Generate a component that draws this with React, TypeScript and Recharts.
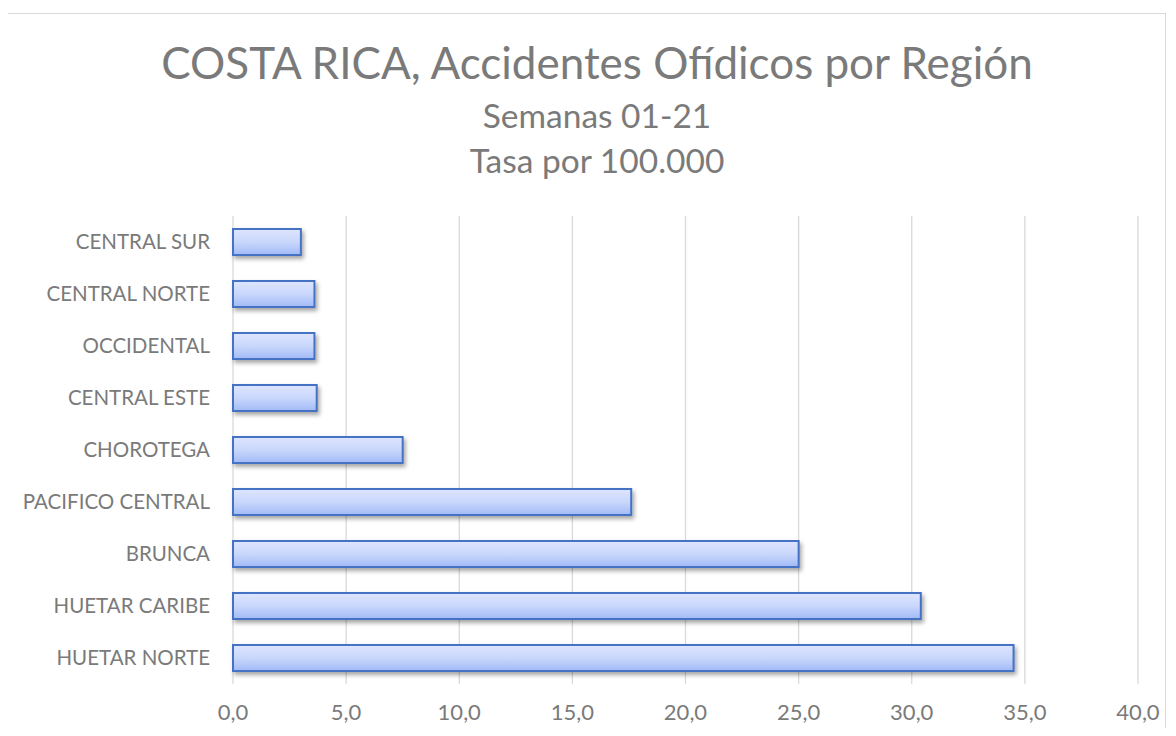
import { BarChart, Bar, XAxis, YAxis, CartesianGrid } from 'recharts'

// regiones, de arriba hacia abajo
const regiones = [
  'CENTRAL SUR',
  'CENTRAL NORTE',
  'OCCIDENTAL',
  'CENTRAL ESTE',
  'CHOROTEGA',
  'PACIFICO CENTRAL',
  'BRUNCA',
  'HUETAR CARIBE',
  'HUETAR NORTE'
]

// tasa por 100.000 habitantes
const tasas = [3.0, 3.6, 3.6, 3.7, 7.5, 17.6, 25.0, 30.4, 34.5]

const ticksX = [0, 5, 10, 15, 20, 25, 30, 35, 40]

const titulo = 'COSTA RICA, Accidentes Ofídicos por Región'
const subtitulos = ['Semanas 01-21', 'Tasa por 100.000']

const data = regiones.map((region, i) => ({ region, tasa: tasas[i] }))

const FONT = 'Lato, "Noto Sans", sans-serif'
const GRIS = '#7a7a7a'

const W = 1157
const H = 730

// barra con degradado, borde y sombra
const BarraSombra = (props: any) => {
  const { x, y, width, height } = props
  if (!width || width <= 0) return null
  return (
    <rect
      x={x}
      y={y}
      width={width}
      height={height}
      fill="url(#rellenoBarra)"
      stroke="#4472c4"
      strokeWidth={2}
      filter="url(#sombraBarra)"
    />
  )
}

const fmt = (v: number) => v.toFixed(1).replace('.', ',')

export default function App() {
  return (
    <div style={{ height: 720, overflow: 'hidden' }}>
      <svg width={0} height={0} style={{ position: 'absolute' }}>
        <defs>
          <linearGradient id="rellenoBarra" x1="0" y1="0" x2="0" y2="1">
            <stop offset="0%" stopColor="#dee6ff" />
            <stop offset="50%" stopColor="#c9d7fc" />
            <stop offset="100%" stopColor="#a1baf6" />
          </linearGradient>
          <filter id="sombraBarra" x="-10%" y="-30%" width="130%" height="180%">
            <feDropShadow dx="2" dy="3" stdDeviation="2" floodColor="#000" floodOpacity="0.35" />
          </filter>
        </defs>
      </svg>
      <div
        style={{
          position: 'relative',
          marginTop: 5,
          marginLeft: -1,
          width: W,
          height: H,
          border: '1px solid #d9d9d9',
          background: '#fff'
        }}
      >
        <BarChart
          width={W}
          height={H}
          data={data}
          layout="vertical"
          margin={{ top: 202, right: 27, left: 0, bottom: 20 }}
          barCategoryGap="25%"
        >
          <CartesianGrid horizontal={false} stroke="#d9d9d9" strokeWidth={1.3} />
          <XAxis
            type="number"
            domain={[0, 40]}
            ticks={ticksX}
            tickFormatter={fmt}
            axisLine={false}
            tickLine={false}
            tickMargin={14}
            height={40}
            tick={{ fontSize: 22, fill: GRIS, fontFamily: FONT }}
          />
          <YAxis
            type="category"
            dataKey="region"
            width={225}
            axisLine={false}
            tickLine={false}
            tickMargin={17}
            interval={0}
            tick={{ fontSize: 20.5, fill: GRIS, fontFamily: FONT }}
          />
          <Bar dataKey="tasa" shape={BarraSombra} isAnimationActive={false} />
        </BarChart>
        <svg
          width={W}
          height={200}
          style={{ position: 'absolute', left: 0, top: 0, pointerEvents: 'none' }}
        >
          <text x={589} y={65} textAnchor="middle" fontSize={44} fill={GRIS} fontFamily={FONT}>
            {titulo}
          </text>
          <text x={589} y={114} textAnchor="middle" fontSize={33.5} fill={GRIS} fontFamily={FONT}>
            {subtitulos[0]}
          </text>
          <text x={589} y={159} textAnchor="middle" fontSize={33.5} fill={GRIS} fontFamily={FONT}>
            {subtitulos[1]}
          </text>
        </svg>
      </div>
    </div>
  )
}
